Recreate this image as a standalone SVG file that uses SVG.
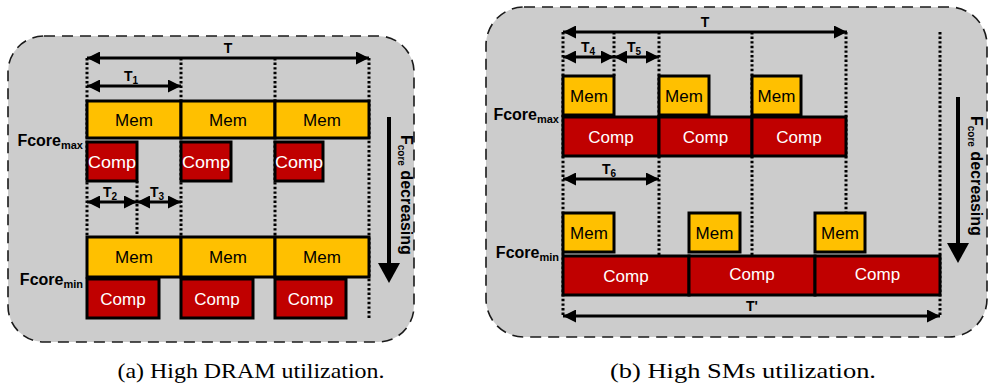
<svg xmlns="http://www.w3.org/2000/svg" width="988" height="389" viewBox="0 0 988 389">
  <style>
    .panel { fill: #cccccc; stroke: #1a1a1a; stroke-width: 1.6; stroke-dasharray: 11 7; }
    .mem { fill: #ffc000; stroke: #000; stroke-width: 3; }
    .comp { fill: #c00000; stroke: #000; stroke-width: 3; }
    .dot { stroke: #000; stroke-width: 3; stroke-dasharray: 2.4 2.2; fill: none; }
    .span { stroke: #000; stroke-width: 3; fill: none; marker-start: url(#ah); marker-end: url(#ah); }
    .shaft { stroke: #000; stroke-width: 4; fill: none; }
    .lbl { font-family: "Liberation Sans", Arial, sans-serif; font-size: 17px; text-anchor: middle; }
    .lbl-k { fill: #000; }
    .lbl-w { fill: #fff; }
    .tl { font-family: "Liberation Sans", Arial, sans-serif; font-size: 14px; font-weight: bold; text-anchor: middle; }
    .fc { font-family: "Liberation Sans", Arial, sans-serif; font-size: 16px; font-weight: bold; text-anchor: end; }
    .dec { font-family: "Liberation Sans", Arial, sans-serif; font-size: 16px; font-weight: bold; }
    .cap { font-family: "Liberation Serif", "Times New Roman", serif; font-size: 21px; text-anchor: middle; fill: #000; }
  </style>
  <defs>
    <marker id="ah" viewBox="0 0 13 13" refX="13" refY="6.5" markerWidth="13" markerHeight="13" markerUnits="userSpaceOnUse" orient="auto-start-reverse">
      <path d="M0,0 L13,6.5 L0,13 z" fill="#000"/>
    </marker>
  </defs>

  <rect width="988" height="389" fill="#fff"/>

  <!-- ===================== Panel (a) ===================== -->
  <rect id="panel-a" class="panel" x="8" y="36" width="406" height="306" rx="36" ry="36"/>

  <g id="connectors-a">
    <!-- period boundaries -->
    <line class="dot" x1="87" y1="58" x2="87" y2="237"/>
    <line class="dot" x1="181" y1="58" x2="181" y2="237"/>
    <line class="dot" x1="275" y1="58" x2="275" y2="237"/>
    <line class="dot" x1="369" y1="58" x2="369" y2="320"/>
    <line class="dot" x1="137" y1="181" x2="137" y2="237"/>
    <!-- spans -->
    <line class="span" x1="87" y1="58" x2="369" y2="58"/>
    <line class="span" x1="87" y1="86" x2="181" y2="86"/>
    <line class="span" x1="87" y1="202" x2="137" y2="202"/>
    <line class="span" x1="137" y1="202" x2="181" y2="202"/>
    <!-- frequency direction -->
    <line class="shaft" x1="389" y1="117" x2="389" y2="266"/>
    <polygon points="378,263 400,263 389,283" fill="#000"/>
  </g>

  <g id="labels-a">
    <text class="tl" x="228" y="53">T</text>
    <text class="tl" x="131" y="81">T<tspan font-size="10" dy="3">1</tspan></text>
    <text class="tl" x="110" y="197">T<tspan font-size="10" dy="3">2</tspan></text>
    <text class="tl" x="157" y="197">T<tspan font-size="10" dy="3">3</tspan></text>
    <text id="fcore-max-a" class="fc" x="83" y="146">Fcore<tspan font-size="11" dy="3">max</tspan></text>
    <text id="fcore-min-a" class="fc" x="83" y="285">Fcore<tspan font-size="11" dy="3">min</tspan></text>
    <text class="dec" transform="translate(401,135) rotate(90)">F<tspan font-size="10" dy="3">core</tspan><tspan dy="-3"> decreasing</tspan></text>
  </g>

  <g id="a-mem-max-1"><rect class="mem" x="87" y="101" width="94" height="37"/><text class="lbl lbl-k" x="134" y="126">Mem</text></g>
  <g id="a-mem-max-2"><rect class="mem" x="181" y="101" width="94" height="37"/><text class="lbl lbl-k" x="228" y="126">Mem</text></g>
  <g id="a-mem-max-3"><rect class="mem" x="275" y="101" width="94" height="37"/><text class="lbl lbl-k" x="322" y="126">Mem</text></g>
  <g id="a-comp-max-1"><rect class="comp" x="87" y="142" width="50" height="39"/><text class="lbl lbl-w" x="112" y="168" textLength="48" lengthAdjust="spacingAndGlyphs">Comp</text></g>
  <g id="a-comp-max-2"><rect class="comp" x="181" y="142" width="50" height="39"/><text class="lbl lbl-w" x="206" y="168" textLength="48" lengthAdjust="spacingAndGlyphs">Comp</text></g>
  <g id="a-comp-max-3"><rect class="comp" x="275" y="142" width="48" height="39"/><text class="lbl lbl-w" x="299" y="168" textLength="48" lengthAdjust="spacingAndGlyphs">Comp</text></g>

  <g id="a-mem-min-1"><rect class="mem" x="87" y="237" width="94" height="40"/><text class="lbl lbl-k" x="134" y="263">Mem</text></g>
  <g id="a-mem-min-2"><rect class="mem" x="181" y="237" width="94" height="40"/><text class="lbl lbl-k" x="228" y="263">Mem</text></g>
  <g id="a-mem-min-3"><rect class="mem" x="275" y="237" width="94" height="40"/><text class="lbl lbl-k" x="322" y="263">Mem</text></g>
  <g id="a-comp-min-1"><rect class="comp" x="87" y="279" width="72" height="39"/><text class="lbl lbl-w" x="123" y="305">Comp</text></g>
  <g id="a-comp-min-2"><rect class="comp" x="181" y="279" width="72" height="39"/><text class="lbl lbl-w" x="217" y="305">Comp</text></g>
  <g id="a-comp-min-3"><rect class="comp" x="275" y="279" width="71" height="39"/><text class="lbl lbl-w" x="310.5" y="305">Comp</text></g>

  <!-- ===================== Panel (b) ===================== -->
  <rect id="panel-b" class="panel" x="486" y="7" width="501" height="330" rx="38" ry="38"/>

  <g id="connectors-b">
    <line class="dot" x1="563" y1="32" x2="563" y2="316"/>
    <line class="dot" x1="614" y1="32" x2="614" y2="76"/>
    <line class="dot" x1="659" y1="32" x2="659" y2="256"/>
    <line class="dot" x1="752" y1="32" x2="752" y2="256"/>
    <line class="dot" x1="846" y1="32" x2="846" y2="213"/>
    <line class="dot" x1="940" y1="32" x2="940" y2="316"/>
    <line class="span" x1="563" y1="32" x2="847" y2="32"/>
    <line class="span" x1="563" y1="57" x2="614" y2="57"/>
    <line class="span" x1="614" y1="57" x2="659" y2="57"/>
    <line class="span" x1="563" y1="179" x2="659" y2="179"/>
    <line class="span" x1="563" y1="316" x2="940" y2="316"/>
    <line class="shaft" x1="958" y1="97" x2="958" y2="246"/>
    <polygon points="947,243 969,243 958,263" fill="#000"/>
  </g>

  <g id="labels-b">
    <text class="tl" x="705" y="27">T</text>
    <text class="tl" x="588" y="52">T<tspan font-size="10" dy="3">4</tspan></text>
    <text class="tl" x="634" y="52">T<tspan font-size="10" dy="3">5</tspan></text>
    <text class="tl" x="609" y="174">T<tspan font-size="10" dy="3">6</tspan></text>
    <text class="tl" x="752" y="311">T'</text>
    <text id="fcore-max-b" class="fc" x="559" y="120">Fcore<tspan font-size="11" dy="3">max</tspan></text>
    <text id="fcore-min-b" class="fc" x="559" y="258">Fcore<tspan font-size="11" dy="3">min</tspan></text>
    <text class="dec" transform="translate(971,116) rotate(90)">F<tspan font-size="10" dy="3">core</tspan><tspan dy="-3"> decreasing</tspan></text>
  </g>

  <g id="b-mem-max-1"><rect class="mem" x="563" y="76" width="51" height="39"/><text class="lbl lbl-k" x="589" y="102">Mem</text></g>
  <g id="b-mem-max-2"><rect class="mem" x="659" y="76" width="50" height="39"/><text class="lbl lbl-k" x="684" y="102">Mem</text></g>
  <g id="b-mem-max-3"><rect class="mem" x="752" y="76" width="49" height="39"/><text class="lbl lbl-k" x="776.5" y="102">Mem</text></g>
  <g id="b-comp-max-1"><rect class="comp" x="563" y="117" width="96" height="39"/><text class="lbl lbl-w" x="611" y="143">Comp</text></g>
  <g id="b-comp-max-2"><rect class="comp" x="659" y="117" width="93" height="39"/><text class="lbl lbl-w" x="705.5" y="143">Comp</text></g>
  <g id="b-comp-max-3"><rect class="comp" x="752" y="117" width="94" height="39"/><text class="lbl lbl-w" x="799" y="143">Comp</text></g>

  <g id="b-mem-min-1"><rect class="mem" x="563" y="213" width="51" height="39"/><text class="lbl lbl-k" x="589" y="239">Mem</text></g>
  <g id="b-mem-min-2"><rect class="mem" x="689" y="213" width="51" height="39"/><text class="lbl lbl-k" x="714.5" y="239">Mem</text></g>
  <g id="b-mem-min-3"><rect class="mem" x="815" y="213" width="50" height="39"/><text class="lbl lbl-k" x="840" y="239">Mem</text></g>
  <g id="b-comp-min-1"><rect class="comp" x="563" y="256" width="126" height="39"/><text class="lbl lbl-w" x="626" y="282">Comp</text></g>
  <g id="b-comp-min-2"><rect class="comp" x="689" y="256" width="126" height="39"/><text class="lbl lbl-w" x="752" y="280">Comp</text></g>
  <g id="b-comp-min-3"><rect class="comp" x="815" y="256" width="125" height="39"/><text class="lbl lbl-w" x="877.5" y="280">Comp</text></g>

  <!-- captions -->
  <text class="cap" x="251" y="378" textLength="267" lengthAdjust="spacingAndGlyphs">(a) High DRAM utilization.</text>
  <text class="cap" x="743" y="378" textLength="266" lengthAdjust="spacingAndGlyphs">(b) High SMs utilization.</text>
</svg>
